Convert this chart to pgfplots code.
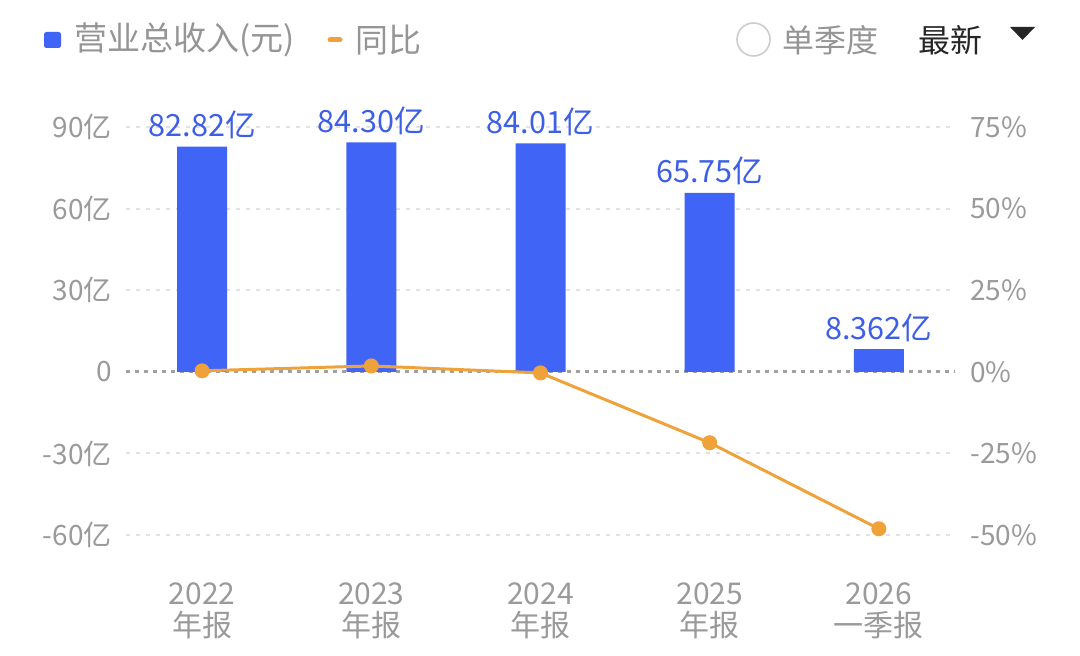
\documentclass[border=0pt]{standalone}
\usepackage{pgfplots}
\pgfplotsset{compat=1.18}
\usepackage{fontspec}
\setmainfont{Noto Sans CJK SC}
\definecolor{barblue}{HTML}{4064F5}
\definecolor{lineorange}{HTML}{F0A23A}
\definecolor{tickgray}{HTML}{9A9A9A}
\definecolor{labelblue}{HTML}{3D5EE6}
\definecolor{gridgray}{HTML}{E2E2E2}
\definecolor{zerogray}{HTML}{A0A0A0}
\definecolor{leggray}{HTML}{959595}
\begin{document}
\begin{tikzpicture}
\path[use as bounding box] (0,0) rectangle (540pt,328pt);
% left axis with bars
\begin{axis}[
  at={(63pt,60.5pt)}, anchor=south west,
  scale only axis, width=414.5pt, height=204pt,
  xmin=-0.45, xmax=4.45, ymin=-60, ymax=90,
  axis line style={draw=none}, major tick length=0pt,
  ytick={-60,-30,30,60,90},
  yticklabels={-60亿,-30亿,30亿,60亿,90亿},
  extra y ticks={0}, extra y tick labels={0},
  extra y tick style={grid style={zerogray, line width=1.4pt, dash pattern=on 2.2pt off 2.3pt}},
  ymajorgrids,
  grid style={gridgray, line width=1pt, dash pattern=on 2pt off 3pt},
  yticklabel style={anchor=east, inner sep=0pt, xshift=-7pt, text=tickgray, font=\fontsize{14}{16}\selectfont},
  xtick={0,1,2,3,4},
  xticklabels={2022\\年报,2023\\年报,2024\\年报,2025\\年报,2026\\一季报},
  xticklabel style={align=center, anchor=north, inner sep=0pt, yshift=-23.5pt, text=tickgray, font=\fontsize{15}{16}\selectfont},
  point meta=explicit symbolic,
  nodes near coords={\pgfplotspointmeta 亿},
  nodes near coords style={anchor=base, inner sep=0pt, yshift=5pt, text=labelblue, font=\fontsize{15.3}{16}\selectfont},
  clip=false,
]
\addplot[ybar, bar width=25pt, fill=barblue, draw=none] coordinates {
  (0,82.82) [82.82]
  (1,84.30) [84.30]
  (2,84.01) [84.01]
  (3,65.75) [65.75]
  (4,8.362) [8.362]
};
\end{axis}
% right axis with growth line
\begin{axis}[
  at={(63pt,60.5pt)}, anchor=south west,
  scale only axis, width=414.5pt, height=204pt,
  xmin=-0.45, xmax=4.45, ymin=-50, ymax=75,
  axis line style={draw=none}, major tick length=0pt,
  xtick=\empty,
  yticklabel pos=right,
  ytick={-50,-25,0,25,50,75},
  yticklabels={-50\%,-25\%,0\%,25\%,50\%,75\%},
  yticklabel style={anchor=west, inner sep=0pt, xshift=7.5pt, text=tickgray, font=\fontsize{14}{16}\selectfont},
  clip=false,
]
\addplot[lineorange, line width=1.5pt, mark=*, mark size=3pt, mark options={fill=lineorange, draw=lineorange}] coordinates {
  (0,0.3) (1,1.79) (2,-0.34) (3,-21.74) (4,-48.1)
};
\end{axis}
% legend
\fill[barblue, rounded corners=1.2pt] (22pt,304pt) rectangle (30.5pt,312pt);
\node[anchor=west, inner sep=0pt, text=leggray, font=\fontsize{16.5}{18}\selectfont] at (37pt,308pt) {营业总收入(元)};
\draw[lineorange, line width=2.5pt, line cap=round] (165pt,308pt) -- (170pt,308pt);
\node[anchor=west, inner sep=0pt, text=leggray, font=\fontsize{16.5}{18}\selectfont] at (177.5pt,308pt) {同比};
\draw[gray!40, line width=0.8pt] (376.75pt,308.25pt) circle (8.25pt);
\node[anchor=west, inner sep=0pt, text=leggray, font=\fontsize{16}{18}\selectfont] at (391pt,308pt) {单季度};
\node[anchor=west, inner sep=0pt, text=black!85, font=\fontsize{16}{18}\selectfont] at (459pt,308pt) {最新};
\fill[black!85] (505pt,314.5pt) -- (517.5pt,314.5pt) -- (511.25pt,308pt) -- cycle;
\end{tikzpicture}
\end{document}
